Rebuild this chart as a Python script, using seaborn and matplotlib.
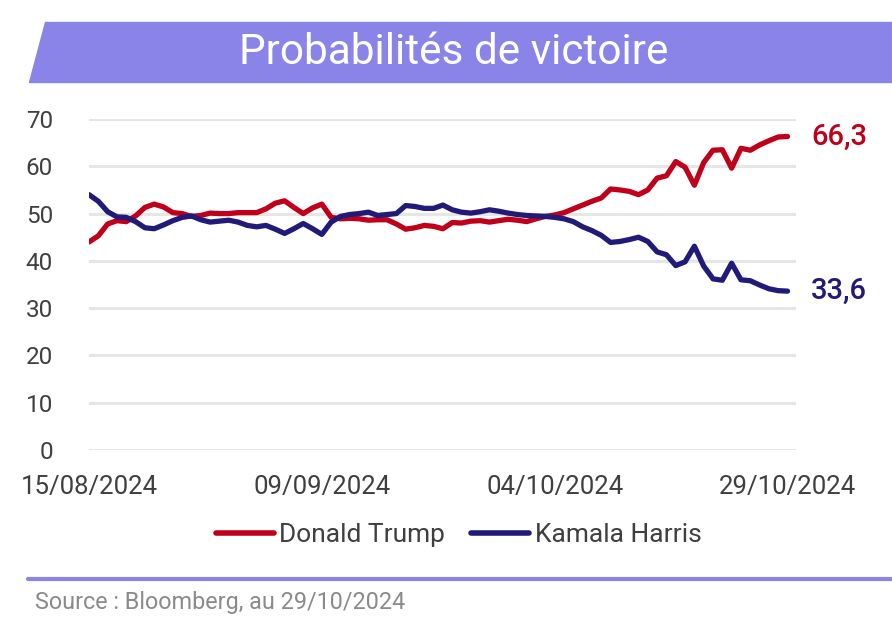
import pandas as pd
import matplotlib.pyplot as plt
import matplotlib.dates as mdates
from matplotlib.patches import Polygon
from matplotlib.lines import Line2D
import seaborn as sns

# daily values, 15/08/2024 -> 29/10/2024
dates = pd.date_range('2024-08-15', '2024-10-29', freq='D')

trump = [44.0, 45.3, 47.8, 48.5, 48.3, 49.5, 51.3, 52.0, 51.4, 50.2,
         50.0, 49.4, 49.6, 50.1, 50.0, 50.0, 50.2, 50.2, 50.2, 51.0,
         52.2, 52.7, 51.3, 50.0, 51.2, 52.0, 49.2, 48.9, 49.0, 48.9,
         48.6, 48.7, 48.7, 47.8, 46.7, 47.0, 47.5, 47.3, 46.8, 48.1,
         48.0, 48.4, 48.5, 48.2, 48.5, 48.8, 48.6, 48.3, 48.9, 49.4,
         49.7, 50.2, 51.0, 51.8, 52.6, 53.3, 55.2, 55.0, 54.7, 54.0,
         55.0, 57.5, 58.0, 61.0, 59.8, 56.0, 60.8, 63.4, 63.5, 59.6,
         63.8, 63.4, 64.5, 65.4, 66.2, 66.3]

harris = [54.0, 52.6, 50.4, 49.3, 49.2, 48.3, 47.0, 46.8, 47.6, 48.5,
          49.2, 49.5, 48.7, 48.2, 48.4, 48.6, 48.2, 47.5, 47.2, 47.5,
          46.7, 45.8, 46.8, 47.9, 46.8, 45.6, 48.2, 49.4, 49.8, 50.0,
          50.3, 49.6, 49.8, 50.0, 51.7, 51.5, 51.1, 51.1, 51.8, 50.8,
          50.3, 50.1, 50.4, 50.8, 50.5, 50.1, 49.8, 49.6, 49.5, 49.4,
          49.2, 48.9, 48.3, 47.2, 46.4, 45.4, 43.9, 44.1, 44.5, 45.0,
          44.1, 41.9, 41.3, 39.0, 39.8, 43.1, 38.9, 36.2, 35.9, 39.5,
          36.0, 35.8, 34.9, 34.1, 33.7, 33.6]

candidates = ['Donald Trump', 'Kamala Harris']
colors = {'Donald Trump': '#C0001A', 'Kamala Harris': '#211A78'}
tick_dates = pd.to_datetime(['2024-08-15', '2024-09-09', '2024-10-04', '2024-10-29'])

df = pd.DataFrame({
    'date': list(dates) * 2,
    'value': trump + harris,
    'candidate': [candidates[0]] * len(dates) + [candidates[1]] * len(dates),
})

sns.set_style('white')
plt.rcParams['font.family'] = ['Roboto', 'DejaVu Sans']
text_col = '#3f3f3f'

fig = plt.figure(figsize=(8.92, 6.28), dpi=100)
ax = fig.add_axes([0.0998, 0.2834, 0.7922, 0.5271])

sns.lineplot(data=df, x='date', y='value', hue='candidate', palette=colors,
             linewidth=3.8, ax=ax, legend=False)

ax.set_ylim(0, 70)
ax.set_xlim(dates[0], dates[-1] + pd.Timedelta(hours=21))
ax.set_yticks(range(0, 71, 10))
ax.set_xticks(tick_dates)
ax.xaxis.set_major_formatter(mdates.DateFormatter('%d/%m/%Y'))
ax.grid(axis='y', color='#e6e6e6', linewidth=2.2)
ax.set_axisbelow(True)
for s in ax.spines.values():
    s.set_visible(False)
ax.tick_params(axis='y', length=0, pad=26, labelsize=17.5, labelcolor=text_col)
ax.tick_params(axis='x', length=7, width=1.5, color='#dcdcdc', pad=11,
               labelsize=18.5, labelcolor=text_col)
ax.set_xlabel('')
ax.set_ylabel('')

# end labels
ax.annotate(f'{trump[-1]:.1f}'.replace('.', ','), (dates[-1], trump[-1]),
            xytext=(17, 0), textcoords='offset points', va='center',
            color=colors['Donald Trump'], fontsize=21, fontweight='medium')
ax.annotate(f'{harris[-1]:.1f}'.replace('.', ','), (dates[-1], harris[-1]),
            xytext=(17, 0), textcoords='offset points', va='center',
            color=colors['Kamala Harris'], fontsize=21, fontweight='medium')

# legend
handles = [Line2D([0], [0], color=colors[c], linewidth=4) for c in candidates]
fig.legend(handles, candidates, loc='center', bbox_to_anchor=(0.514, 1 - 535 / 628),
           ncol=2, frameon=False, fontsize=19, handlelength=2.2,
           handletextpad=0.2, columnspacing=1.0, labelcolor=text_col)

# title banner
banner = Polygon([(45 / 892, 1 - 22 / 628), (1, 1 - 22 / 628),
                  (1, 1 - 82 / 628), (29 / 892, 1 - 82 / 628)],
                 closed=True, transform=fig.transFigure, color='#8B84E8', zorder=0)
fig.patches.append(banner)
fig.text(0.509, 1 - 52 / 628, 'Probabilités de victoire', ha='center', va='center',
         color='white', fontsize=30.5)

# bottom rule and source
fig.add_artist(Line2D([28 / 892, 1], [1 - 579 / 628, 1 - 579 / 628],
                      transform=fig.transFigure, color='#8B84E8', linewidth=3))
fig.text(35 / 892, 1 - 603 / 628, 'Source : Bloomberg, au 29/10/2024', ha='left',
         va='center', color='#8a8a8a', fontsize=16.8)

fig.savefig('out.png', dpi=100)
